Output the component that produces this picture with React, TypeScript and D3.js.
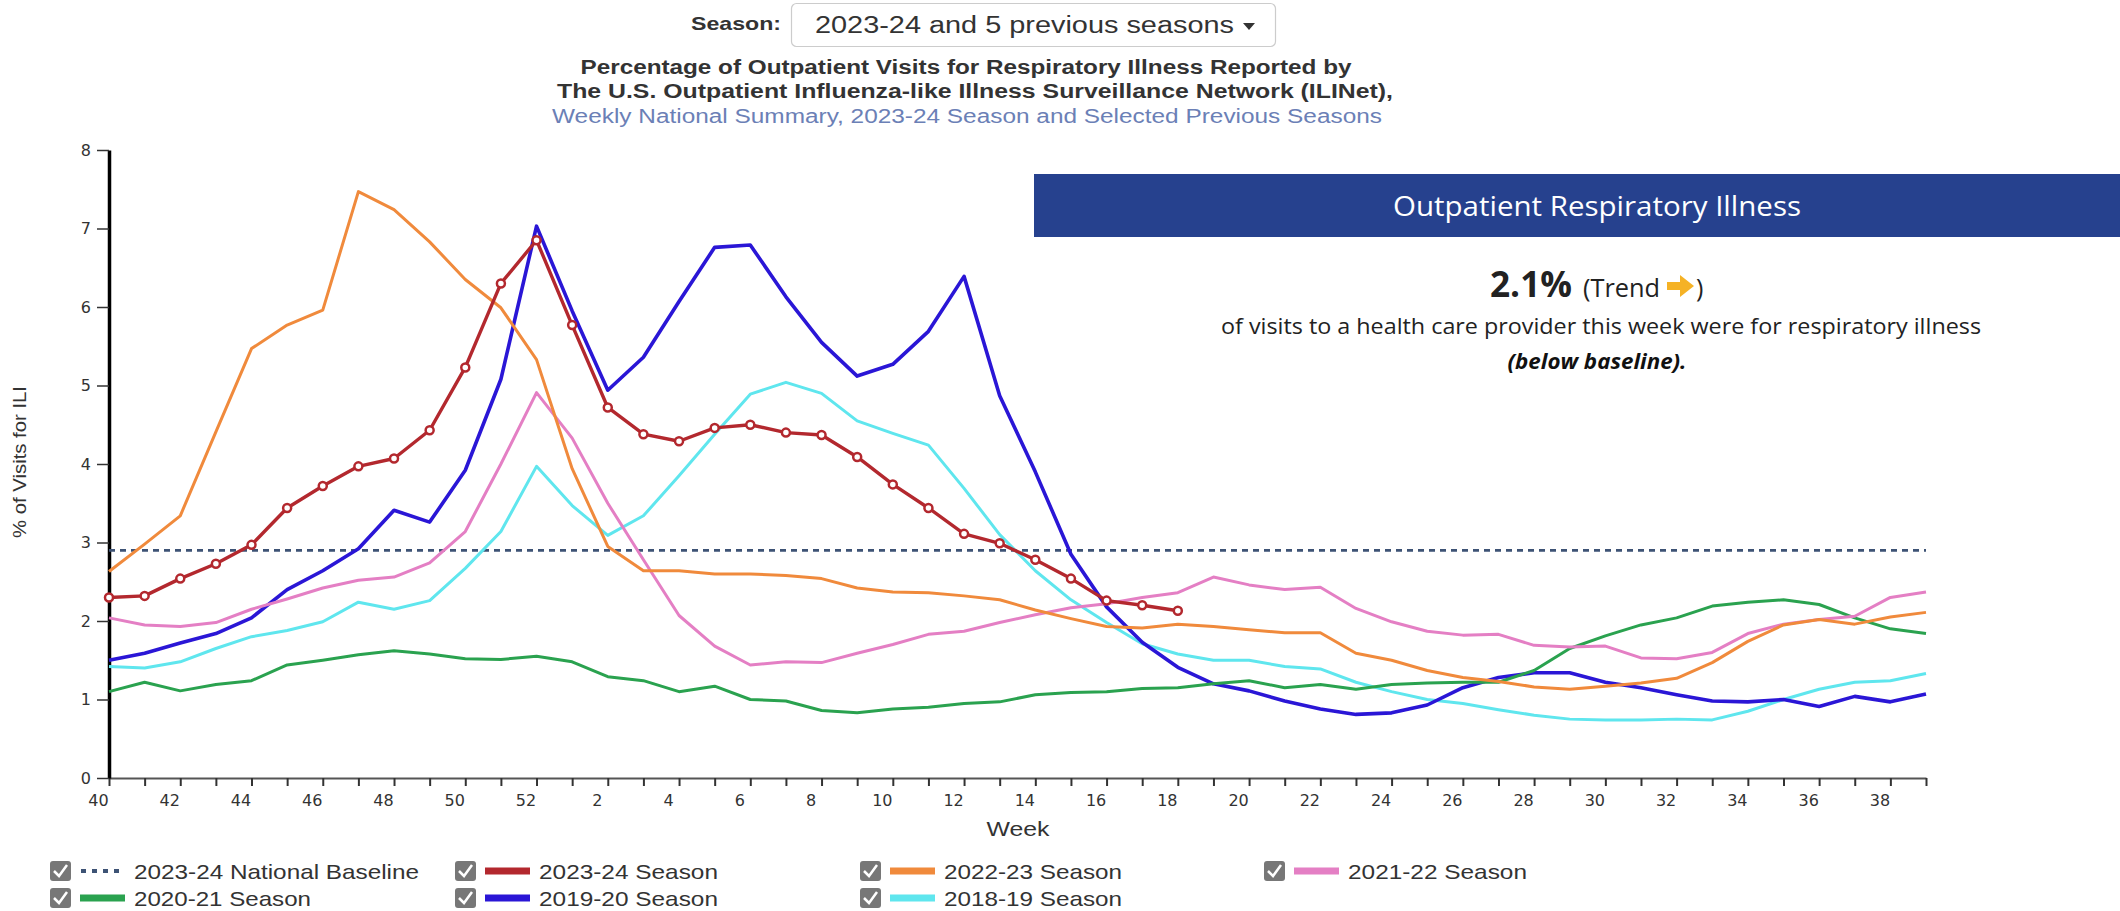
import React, { useEffect, useRef } from 'react';
import * as d3 from 'd3';

// week order of an influenza season (week 40 through week 39)
const weeks = [40, 41, 42, 43, 44, 45, 46, 47, 48, 49, 50, 51, 52,
  1, 2, 3, 4, 5, 6, 7, 8, 9, 10, 11, 12, 13, 14, 15, 16, 17, 18, 19, 20,
  21, 22, 23, 24, 25, 26, 27, 28, 29, 30, 31, 32, 33, 34, 35, 36, 37, 38, 39];

const baseline2324 = 2.9;

const season2324 = [2.30, 2.32, 2.54, 2.73, 2.97, 3.44, 3.72, 3.97, 4.07, 4.43, 5.23, 6.30, 6.85,
  5.77, 4.72, 4.38, 4.29, 4.46, 4.50, 4.40, 4.37, 4.09, 3.74, 3.44, 3.11, 2.99, 2.78, 2.54, 2.26, 2.20, 2.13];

const season2223 = [2.63, 2.98, 3.34, 4.41, 5.47, 5.77, 5.96, 7.47, 7.24, 6.83, 6.35, 5.99, 5.33,
  3.94, 2.95, 2.64, 2.64, 2.60, 2.60, 2.58, 2.54, 2.42, 2.37, 2.36, 2.32, 2.27, 2.14, 2.03, 1.93, 1.91, 1.96, 1.93, 1.89,
  1.85, 1.85, 1.59, 1.50, 1.37, 1.28, 1.23, 1.16, 1.13, 1.17, 1.21, 1.27, 1.47, 1.74, 1.95, 2.02, 1.96, 2.05, 2.11];

const season2122 = [2.04, 1.95, 1.93, 1.98, 2.15, 2.28, 2.42, 2.52, 2.56, 2.74, 3.14, 4.00, 4.91,
  4.33, 3.50, 2.78, 2.07, 1.68, 1.44, 1.48, 1.47, 1.59, 1.70, 1.83, 1.87, 1.98, 2.08, 2.17, 2.22, 2.30, 2.36, 2.56, 2.46,
  2.40, 2.43, 2.16, 1.99, 1.87, 1.82, 1.83, 1.69, 1.67, 1.68, 1.53, 1.52, 1.60, 1.84, 1.96, 2.02, 2.06, 2.30, 2.37];

const season2021 = [1.10, 1.22, 1.11, 1.19, 1.24, 1.44, 1.50, 1.57, 1.62, 1.58, 1.52, 1.51, 1.55,
  1.48, 1.29, 1.24, 1.10, 1.17, 1.00, 0.98, 0.86, 0.83, 0.88, 0.90, 0.95, 0.97, 1.06, 1.09, 1.10, 1.14, 1.15, 1.20, 1.24,
  1.15, 1.19, 1.13, 1.19, 1.21, 1.22, 1.22, 1.37, 1.65, 1.81, 1.95, 2.04, 2.19, 2.24, 2.27, 2.21, 2.04, 1.90, 1.84];

const season1920 = [1.50, 1.59, 1.72, 1.84, 2.04, 2.40, 2.64, 2.92, 3.41, 3.26, 3.92, 5.08, 7.03,
  5.95, 4.94, 5.36, 6.07, 6.76, 6.79, 6.13, 5.55, 5.12, 5.27, 5.69, 6.39, 4.87, 3.90, 2.85, 2.18, 1.73, 1.41, 1.20, 1.11,
  0.98, 0.88, 0.81, 0.83, 0.93, 1.15, 1.28, 1.34, 1.34, 1.22, 1.15, 1.06, 0.98, 0.97, 1.00, 0.91, 1.04, 0.97, 1.07];

const season1819 = [1.42, 1.40, 1.48, 1.65, 1.80, 1.88, 1.99, 2.24, 2.15, 2.26, 2.67, 3.14, 3.97,
  3.47, 3.09, 3.34, 3.85, 4.38, 4.89, 5.04, 4.90, 4.55, 4.39, 4.24, 3.69, 3.10, 2.64, 2.27, 1.98, 1.71, 1.58, 1.50, 1.50,
  1.42, 1.39, 1.22, 1.10, 1.00, 0.95, 0.87, 0.80, 0.75, 0.74, 0.74, 0.75, 0.74, 0.85, 1.00, 1.13, 1.22, 1.24, 1.33];

const legendLabels = ['2023-24 National Baseline', '2023-24 Season', '2022-23 Season', '2021-22 Season',
  '2020-21 Season', '2019-20 Season', '2018-19 Season'];

const colors = {
  baseline: '#3e5375',
  s2324: '#b3282e',
  s2223: '#f08a3c',
  s2122: '#e47fc4',
  s2021: '#2aa24f',
  s1920: '#2a16d6',
  s1819: '#5fe6ee',
};

const W = 2120;
const H = 911;
const margin = { left: 109, right: 194, top: 150, bottom: 133 };

const App = () => {
  const xAxisRef = useRef<SVGGElement>(null);
  const yAxisRef = useRef<SVGGElement>(null);

  const x = d3.scalePoint<string>()
    .domain(weeks.map(String))
    .range([margin.left, W - margin.right]);

  const y = d3.scaleLinear()
    .domain([0, 8])
    .range([H - margin.bottom, margin.top]);

  const line = d3.line<number>()
    .x((d, i) => x(String(weeks[i])) as number)
    .y(d => y(d));

  useEffect(() => {
    // X軸
    const xAxis = d3.axisBottom(x)
      .tickSize(8)
      .tickSizeOuter(0)
      .tickPadding(6)
      .tickFormat((d, i) => (i % 2 === 0 ? d : ''));
    const gx = d3.select(xAxisRef.current);
    gx.call(xAxis as any);
    gx.select('.domain').attr('stroke', '#555').attr('stroke-width', 2);
    gx.selectAll('.tick line').attr('stroke', '#333').attr('stroke-width', 2);
    gx.selectAll('.tick text')
      .attr('dx', -11)
      .attr('dy', '0.85em')
      .attr('fill', '#333')
      .style('font-family', 'DejaVu Sans')
      .style('font-size', '16px');

    // Y軸
    const yAxis = d3.axisLeft(y)
      .ticks(8)
      .tickSize(12)
      .tickSizeOuter(0)
      .tickPadding(6);
    const gy = d3.select(yAxisRef.current);
    gy.call(yAxis as any);
    gy.select('.domain').attr('stroke', '#000').attr('stroke-width', 3.5);
    gy.selectAll('.tick line').attr('stroke', '#333').attr('stroke-width', 1.5);
    gy.selectAll('.tick text')
      .attr('fill', '#333')
      .style('font-family', 'DejaVu Sans')
      .style('font-size', '16px');
  }, []);

  const series = [
    { data: season1819, color: colors.s1819, width: 3 },
    { data: season1920, color: colors.s1920, width: 3.6 },
    { data: season2021, color: colors.s2021, width: 3 },
    { data: season2122, color: colors.s2122, width: 3 },
    { data: season2223, color: colors.s2223, width: 3 },
  ];

  const legendColors = [colors.baseline, colors.s2324, colors.s2223, colors.s2122,
    colors.s2021, colors.s1920, colors.s1819];
  const legendCols = [50, 455, 860, 1264];
  const legendRows = [871, 898];
  const legendWidths = [285, 179, 178, 179, 177, 179, 178];

  const arial = 'Liberation Sans, Arial, sans-serif';
  const openSans = 'Open Sans, sans-serif';

  return (
    <svg width={W} height={H} style={{ position: 'absolute', left: 0, top: 0, background: '#fff' }}>
      {/* header */}
      <text x={781} y={30} textAnchor="end" fontFamily={arial} fontWeight="bold" fontSize={19} fill="#333"
        textLength={90} lengthAdjust="spacingAndGlyphs">Season:</text>
      <rect x={791.5} y={3.5} width={484} height={43} rx={5} fill="#fff" stroke="#ccc" strokeWidth={1.2} />
      <text x={815} y={33} fontFamily={arial} fontSize={23} fill="#333"
        textLength={419} lengthAdjust="spacingAndGlyphs">2023-24 and 5 previous seasons</text>
      <path d="M1243,23 L1255,23 L1249,30 Z" fill="#333" />

      <text x={966} y={74} textAnchor="middle" fontFamily={arial} fontWeight="bold" fontSize={20} fill="#333"
        textLength={771} lengthAdjust="spacingAndGlyphs">Percentage of Outpatient Visits for Respiratory Illness Reported by</text>
      <text x={975} y={98} textAnchor="middle" fontFamily={arial} fontWeight="bold" fontSize={20} fill="#333"
        textLength={836} lengthAdjust="spacingAndGlyphs">The U.S. Outpatient Influenza-like Illness Surveillance Network (ILINet),</text>
      <text x={967} y={123} textAnchor="middle" fontFamily={arial} fontSize={20} fill="#6b80b6"
        textLength={830} lengthAdjust="spacingAndGlyphs">Weekly National Summary, 2023-24 Season and Selected Previous Seasons</text>

      {/* axes */}
      <g ref={xAxisRef} transform={`translate(0, ${H - margin.bottom})`} />
      <g ref={yAxisRef} transform={`translate(${margin.left}, 0)`} />

      <text transform={`translate(26, 462) rotate(-90)`} textAnchor="middle" fontFamily={arial} fontSize={19} fill="#333"
        textLength={152} lengthAdjust="spacingAndGlyphs">% of Visits for ILI</text>
      <text x={1018} y={836} textAnchor="middle" fontFamily={arial} fontSize={21} fill="#333"
        textLength={63} lengthAdjust="spacingAndGlyphs">Week</text>

      {/* baseline */}
      <line x1={margin.left} x2={W - margin.right} y1={y(baseline2324)} y2={y(baseline2324)}
        stroke={colors.baseline} strokeWidth={2.6} strokeDasharray="6,5" />

      {/* previous seasons */}
      {series.map((s, i) => (
        <path key={i} d={line(s.data) as string} fill="none" stroke={s.color} strokeWidth={s.width}
          strokeLinejoin="round" />
      ))}

      {/* current season */}
      <path d={line(season2324) as string} fill="none" stroke={colors.s2324} strokeWidth={3.4} strokeLinejoin="round" />
      {season2324.map((d, i) => (
        <circle key={i} cx={x(String(weeks[i]))} cy={y(d)} r={4} fill="#fff" stroke={colors.s2324} strokeWidth={2.5} />
      ))}

      {/* summary panel */}
      <rect x={1034} y={174} width={W - 1034} height={63} fill="#26418e" />
      <text x={1597} y={216} textAnchor="middle" fontFamily={openSans} fontSize={28} fill="#fff"
        textLength={408} lengthAdjust="spacingAndGlyphs">Outpatient Respiratory Illness</text>
      <text x={1490} y={297} fontFamily={openSans} fontWeight="bold" fontSize={36} fill="#222"
        textLength={82} lengthAdjust="spacingAndGlyphs">2.1%</text>
      <text x={1583} y={297} fontFamily={openSans} fontSize={25} fill="#222"
        textLength={77} lengthAdjust="spacingAndGlyphs">(Trend</text>
      <path d="M1667,282 L1680,282 L1680,275 L1694,286 L1680,297 L1680,290 L1667,290 Z" fill="#f5b225" />
      <text x={1696} y={297} fontFamily={openSans} fontSize={25} fill="#222">)</text>
      <text x={1601} y={334} textAnchor="middle" fontFamily={openSans} fontSize={21} fill="#222"
        textLength={760} lengthAdjust="spacingAndGlyphs">of visits to a health care provider this week were for respiratory illness</text>
      <text x={1597} y={369} textAnchor="middle" fontFamily={openSans} fontWeight="bold" fontStyle="italic" fontSize={21}
        fill="#111" textLength={179} lengthAdjust="spacingAndGlyphs">(below baseline).</text>

      {/* legend */}
      {legendLabels.map((label, i) => {
        const cx = legendCols[i < 4 ? i : i - 4];
        const cy = legendRows[i < 4 ? 0 : 1];
        return (
          <g key={label}>
            <rect x={cx} y={cy - 10} width={21} height={20} rx={3} fill="#777" />
            <path d={`M${cx + 4},${cy} L${cx + 9},${cy + 5} L${cx + 17},${cy - 6}`} fill="none" stroke="#fff" strokeWidth={2.5} />
            {i === 0 ? (
              <line x1={cx + 31} x2={cx + 75} y1={cy} y2={cy} stroke={legendColors[i]} strokeWidth={4} strokeDasharray="5,6" />
            ) : (
              <line x1={cx + 30} x2={cx + 75} y1={cy} y2={cy} stroke={legendColors[i]} strokeWidth={7} />
            )}
            <text x={cx + 84} y={cy + 8} fontFamily={arial} fontSize={21} fill="#333"
              textLength={legendWidths[i]} lengthAdjust="spacingAndGlyphs">{label}</text>
          </g>
        );
      })}
    </svg>
  );
};

export default App;
